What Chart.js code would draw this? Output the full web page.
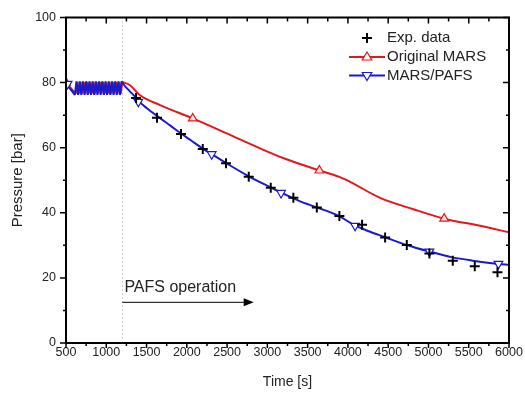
<!DOCTYPE html>
<html>
<head>
<meta charset="utf-8">
<script src="https://cdn.jsdelivr.net/npm/chart.js@4.4.1/dist/chart.umd.min.js"></script>
<style>
    html, body { margin: 0; padding: 0; background: #fff; }
</style>
</head>
<body>
<canvas id="pressureChart" width="525" height="393"></canvas>
<script>
'use strict';

// Time [s] / pressure [bar]
// oscillating part before PAFS starts
const marsPafsOscTime = [500,
    610, 630, 650, 670, 690, 710, 730, 750, 770, 790, 810, 830, 850, 870, 890,
    910, 930, 950, 970, 990, 1010, 1030, 1050, 1070, 1090, 1110, 1130, 1150, 1170, 1190, 1200];
const marsPafsOscPressure = [79.8,
    76.2, 80.4, 76.2, 80.4, 76.2, 80.4, 76.2, 80.4, 76.2, 80.4, 76.2, 80.4, 76.2, 80.4, 76.2,
    80.4, 76.2, 80.4, 76.2, 80.4, 76.2, 80.4, 76.2, 80.4, 76.2, 80.4, 76.2, 80.4, 76.2, 80.4, 80.0];
const originalOscTime = [500,
    620, 640, 660, 680, 700, 720, 740, 760, 780, 800, 820, 840, 860, 880, 900,
    920, 940, 960, 980, 1000, 1020, 1040, 1060, 1080, 1100, 1120, 1140, 1160, 1180, 1200];
const originalOscPressure = [80.0,
    76.6, 80.2, 76.6, 80.2, 76.6, 80.2, 76.6, 80.2, 76.6, 80.2, 76.6, 80.2, 76.6, 80.2, 76.6,
    80.2, 76.6, 80.2, 76.6, 80.2, 76.6, 80.2, 76.6, 80.2, 76.6, 80.2, 76.6, 80.2, 76.6, 80.2];

// depressurisation after 1200 s
const marsPafsTime = [1200, 1230, 1290, 1360, 1400, 1500, 1650, 1800, 1920, 2050, 2200, 2310,
    2500, 2770, 3000, 3190, 3400, 3610, 3890, 4080, 4250, 4460, 4730, 5010, 5300, 5550, 5870, 6000];
const marsPafsPressure = [80.0, 79.0, 77.4, 75.6, 74.4, 72.2, 69.4, 66.7, 64.5, 62.3, 59.7, 58.0,
    55.1, 51.2, 48.3, 46.0, 43.6, 41.7, 39.0, 36.2, 34.4, 32.5, 30.1, 28.1, 26.3, 25.3, 24.3, 24.0];
const originalTime = [1200, 1295, 1419, 1667, 2073, 2495, 2909, 3220, 3646, 3944, 4400, 4813,
    5195, 5642, 6000];
const originalPressure = [80.2, 79.2, 76.1, 73.1, 69.0, 64.4, 59.8, 56.6, 53.0, 50.5, 44.6, 41.1,
    38.2, 36.0, 34.0];

// symbols drawn on top of the curves
const originalMarkTime = [500, 2073, 3646, 5195];
const originalMarkPressure = [80.0, 69.0, 53.0, 38.2];
const marsPafsMarkTime = [520, 1398, 2309, 3170, 4089, 5012, 5869];
const marsPafsMarkPressure = [79.6, 74.1, 58.0, 46.1, 36.0, 28.1, 24.3];

const expTime = [1370, 1630, 1928, 2198, 2487, 2769, 3042, 3323, 3614, 3894, 4176,
    4462, 4731, 5012, 5302, 5575, 5857];
const expPressure = [75.3, 69.2, 64.2, 59.6, 55.2, 51.1, 47.7, 44.6, 41.6, 39.0, 36.3,
    32.4, 30.1, 27.5, 25.3, 23.6, 21.7];

const pafsStart = 1200;
const pafsArrowEnd = 2830;
const pafsArrowLevel = 12.5;

const RED = '#e4181b';
const BLUE = '#1a1acb';
const FONT = "'Liberation Sans', Arial, sans-serif";

const toPoints = function (xs, ys) {
    return xs.map(function (x, i) { return { x: x, y: ys[i] }; });
};

const drawTriangle = function (ctx, x, y, r, down, color) {
    const s = down ? -1 : 1;
    ctx.beginPath();
    ctx.moveTo(x, y - s * r);
    ctx.lineTo(x + r * 0.95, y + s * r * 0.6);
    ctx.lineTo(x - r * 0.95, y + s * r * 0.6);
    ctx.closePath();
    ctx.fillStyle = '#fff';
    ctx.fill();
    ctx.lineWidth = 1.2;
    ctx.strokeStyle = color;
    ctx.stroke();
};

const extras = {
    id: 'extras',
    beforeDatasetsDraw(chart) {
        const ctx = chart.ctx;
        const x = chart.scales.x;
        const area = chart.chartArea;
        const px = Math.round(x.getPixelForValue(pafsStart)) + 0.5;
        ctx.save();
        ctx.strokeStyle = '#9a9a9a';
        ctx.lineWidth = 1;
        ctx.setLineDash([1, 3]);
        ctx.beginPath();
        ctx.moveTo(px, area.top);
        ctx.lineTo(px, area.bottom);
        ctx.stroke();
        ctx.restore();
    },
    afterDraw(chart) {
        const ctx = chart.ctx;
        const x = chart.scales.x;
        const y = chart.scales.y;
        const area = chart.chartArea;
        ctx.save();

        // frame
        ctx.strokeStyle = '#000';
        ctx.lineWidth = 2;
        ctx.strokeRect(area.left, area.top, area.right - area.left, area.bottom - area.top);

        // tick marks
        ctx.lineWidth = 1.5;
        ctx.beginPath();
        for (let v = 500; v <= 6000; v += 250) {
            const p = x.getPixelForValue(v);
            const len = v % 500 === 0 ? 5 : 3;
            ctx.moveTo(p, area.bottom);
            ctx.lineTo(p, area.bottom + len);
            ctx.moveTo(p, area.top);
            ctx.lineTo(p, area.top + len + 1);
        }
        for (let v = 0; v <= 100; v += 10) {
            const p = y.getPixelForValue(v);
            const len = v % 20 === 0 ? 6 : 3;
            ctx.moveTo(area.left, p);
            ctx.lineTo(area.left - len, p);
            ctx.moveTo(area.right, p);
            ctx.lineTo(area.right - len, p);
        }
        ctx.stroke();

        // PAFS operation arrow
        const ax0 = x.getPixelForValue(pafsStart);
        const ax1 = x.getPixelForValue(pafsArrowEnd);
        const ay = y.getPixelForValue(pafsArrowLevel);
        ctx.lineWidth = 1;
        ctx.beginPath();
        ctx.moveTo(ax0, ay);
        ctx.lineTo(ax1 - 8, ay);
        ctx.stroke();
        ctx.beginPath();
        ctx.moveTo(ax1, ay);
        ctx.lineTo(ax1 - 10, ay - 4);
        ctx.lineTo(ax1 - 10, ay + 4);
        ctx.closePath();
        ctx.fillStyle = '#000';
        ctx.fill();
        ctx.font = '16px ' + FONT;
        ctx.fillStyle = '#222';
        ctx.textBaseline = 'alphabetic';
        ctx.textAlign = 'left';
        ctx.fillText('PAFS operation', ax0 + 2, ay - 10);

        // legend
        const lx = 367;
        const tx = 387;
        ctx.font = '15px ' + FONT;
        ctx.textBaseline = 'middle';
        ctx.fillStyle = '#222';
        ctx.strokeStyle = '#000';
        ctx.lineWidth = 2;
        ctx.beginPath();
        ctx.moveTo(lx - 5, 38);
        ctx.lineTo(lx + 5, 38);
        ctx.moveTo(lx, 33);
        ctx.lineTo(lx, 43);
        ctx.stroke();
        ctx.fillText('Exp. data', tx, 38);

        ctx.strokeStyle = RED;
        ctx.lineWidth = 2;
        ctx.beginPath();
        ctx.moveTo(349, 57);
        ctx.lineTo(385, 57);
        ctx.stroke();
        drawTriangle(ctx, lx, 57, 5, false, RED);
        ctx.fillStyle = '#222';
        ctx.fillText('Original MARS', tx, 57);

        ctx.strokeStyle = BLUE;
        ctx.lineWidth = 2;
        ctx.beginPath();
        ctx.moveTo(349, 75.5);
        ctx.lineTo(385, 75.5);
        ctx.stroke();
        drawTriangle(ctx, lx, 75.5, 5, true, BLUE);
        ctx.fillStyle = '#222';
        ctx.fillText('MARS/PAFS', tx, 75.5);

        ctx.restore();
    }
};

const ctx = document.getElementById('pressureChart').getContext('2d');

new Chart(ctx, {
    type: 'line',
    data: {
        datasets: [{
            label: 'Exp. data',
            data: toPoints(expTime, expPressure),
            showLine: false,
            pointStyle: 'cross',
            pointRadius: 5,
            pointBorderWidth: 2,
            borderColor: '#000',
            order: 0
        }, {
            label: 'MARS/PAFS marks',
            data: toPoints(marsPafsMarkTime, marsPafsMarkPressure),
            showLine: false,
            pointStyle: 'triangle',
            rotation: 180,
            pointRadius: 5,
            pointBorderWidth: 1.2,
            borderColor: BLUE,
            backgroundColor: '#fff',
            order: 1
        }, {
            label: 'Original MARS marks',
            data: toPoints(originalMarkTime, originalMarkPressure),
            showLine: false,
            pointStyle: 'triangle',
            pointRadius: 5,
            pointBorderWidth: 1.2,
            borderColor: RED,
            backgroundColor: '#fde8e8',
            order: 1
        }, {
            label: 'MARS/PAFS',
            data: toPoints(marsPafsTime, marsPafsPressure),
            borderColor: BLUE,
            borderWidth: 2,
            pointRadius: 0,
            cubicInterpolationMode: 'monotone',
            order: 2
        }, {
            label: 'MARS/PAFS (before 1200 s)',
            data: toPoints(marsPafsOscTime, marsPafsOscPressure),
            borderColor: BLUE,
            borderWidth: 2,
            borderJoinStyle: 'bevel',
            pointRadius: 0,
            tension: 0,
            order: 2
        }, {
            label: 'Original MARS',
            data: toPoints(originalTime, originalPressure),
            borderColor: RED,
            borderWidth: 2,
            pointRadius: 0,
            cubicInterpolationMode: 'monotone',
            order: 3
        }, {
            label: 'Original MARS (before 1200 s)',
            data: toPoints(originalOscTime, originalOscPressure),
            borderColor: RED,
            borderWidth: 2,
            borderJoinStyle: 'bevel',
            pointRadius: 0,
            tension: 0,
            order: 3
        }]
    },
    options: {
        responsive: false,
        animation: false,
        layout: {
            padding: { top: 15, right: 16, left: 0, bottom: 0 }
        },
        plugins: {
            legend: { display: false },
            tooltip: { enabled: false }
        },
        scales: {
            x: {
                type: 'linear',
                min: 500,
                max: 6000,
                afterFit: function (scale) { scale.height = 50; },
                grid: { display: false, drawTicks: false },
                border: { display: false },
                ticks: {
                    stepSize: 500,
                    padding: 2,
                    maxRotation: 0,
                    color: '#222',
                    font: { family: FONT, size: 12.5 },
                    callback: function (value) { return String(value); }
                },
                title: {
                    display: true,
                    text: 'Time [s]',
                    color: '#222',
                    padding: { top: 0, bottom: 2 },
                    font: { family: FONT, size: 14 }
                }
            },
            y: {
                min: 0,
                max: 100,
                afterFit: function (scale) { scale.width = 66; },
                grid: { display: false, drawTicks: false },
                border: { display: false },
                ticks: {
                    stepSize: 20,
                    padding: 10,
                    color: '#222',
                    font: { family: FONT, size: 12.5 }
                },
                title: {
                    display: true,
                    text: 'Pressure [bar]',
                    color: '#222',
                    padding: { top: 9, bottom: 0 },
                    font: { family: FONT, size: 15 }
                }
            }
        }
    },
    plugins: [extras]
});
</script>
</body>
</html>
